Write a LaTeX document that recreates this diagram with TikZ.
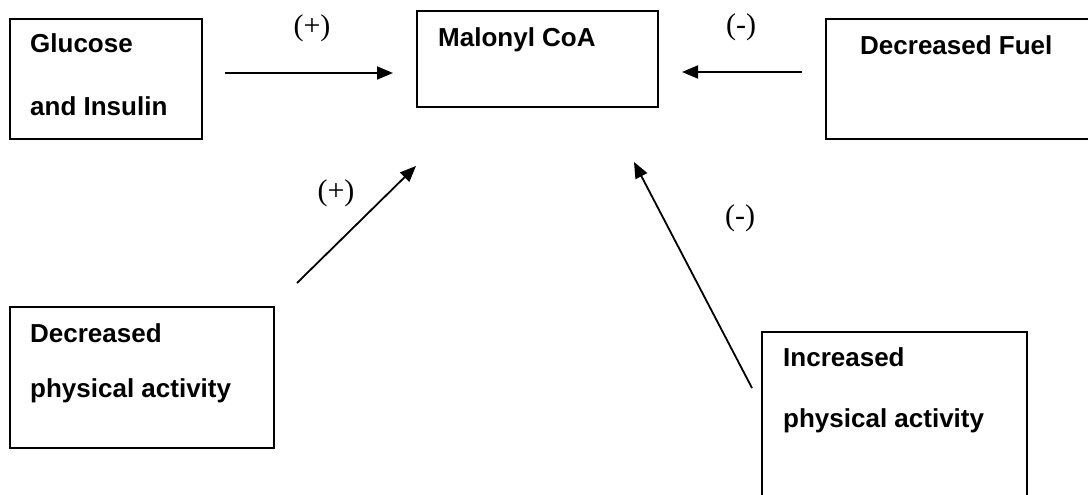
\documentclass[tikz,border=0pt]{standalone}
\usepackage{fontspec}
\setmainfont{Liberation Serif}
\newfontfamily\boxfont{Liberation Sans}
\usetikzlibrary{arrows.meta}
\tikzset{
  boxnode/.style={draw=black, line width=1.8pt, rectangle, inner sep=0pt, anchor=north west},
  boxtext/.style={inner sep=0pt, anchor=base west, font=\boxfont\bfseries\fontsize{26}{26}\selectfont},
  signlabel/.style={inner sep=0pt, font=\fontsize{30}{30}\selectfont},
  conn/.style={line width=1.8pt, -{Triangle[length=16pt,width=13pt]}}
}
\begin{document}
\begin{tikzpicture}[x=1pt,y=-1pt]
\clip (0,0) rectangle (1088,495);
\fill[white] (0,0) rectangle (1088,495);
% boxes
\node[boxnode, minimum width=192pt, minimum height=120pt] (glucose) at (9,18) {};
\node[boxnode, minimum width=241pt, minimum height=96pt] (malonyl) at (416,10) {};
\node[boxnode, minimum width=300pt, minimum height=120pt] (fuel) at (825,18) {};
\node[boxnode, minimum width=264pt, minimum height=141pt] (decphys) at (9,306) {};
\node[boxnode, minimum width=265pt, minimum height=200pt] (incphys) at (761,331) {};
% texts
\node[boxtext] (t1) at (30,53) {Glucose};
\node[boxtext] (t2) at (30,115) {and Insulin};
\node[boxtext] (t3) at (438,47) {Malonyl CoA};
\node[boxtext] (t4) at (860,55) {Decreased Fuel};
\node[boxtext] (t5) at (30,342) {Decreased};
\node[boxtext] (t6) at (30,397) {physical activity};
\node[boxtext] (t7) at (783,366) {Increased};
\node[boxtext] (t8) at (783,427) {physical activity};
% arrow end points
\coordinate (a1s) at (225,73);
\coordinate (a1e) at (393,73);
\coordinate (a2s) at (802,72);
\coordinate (a2e) at (682,72);
\coordinate (a3s) at (297,283);
\coordinate (a3e) at (416,166);
\coordinate (a4s) at (752,388);
\coordinate (a4e) at (634,162);
\draw[conn] (a1s) -- (a1e);
\draw[conn] (a2s) -- (a2e);
\draw[conn] (a3s) -- (a3e);
\draw[conn] (a4s) -- (a4e);
% labels
\node[signlabel] (l1) at (312,28) {(+)};
\node[signlabel] (l2) at (741,27) {(-)};
\node[signlabel] (l3) at (336,193) {(+)};
\node[signlabel] (l4) at (740,218) {(-)};
\end{tikzpicture}
\end{document}
